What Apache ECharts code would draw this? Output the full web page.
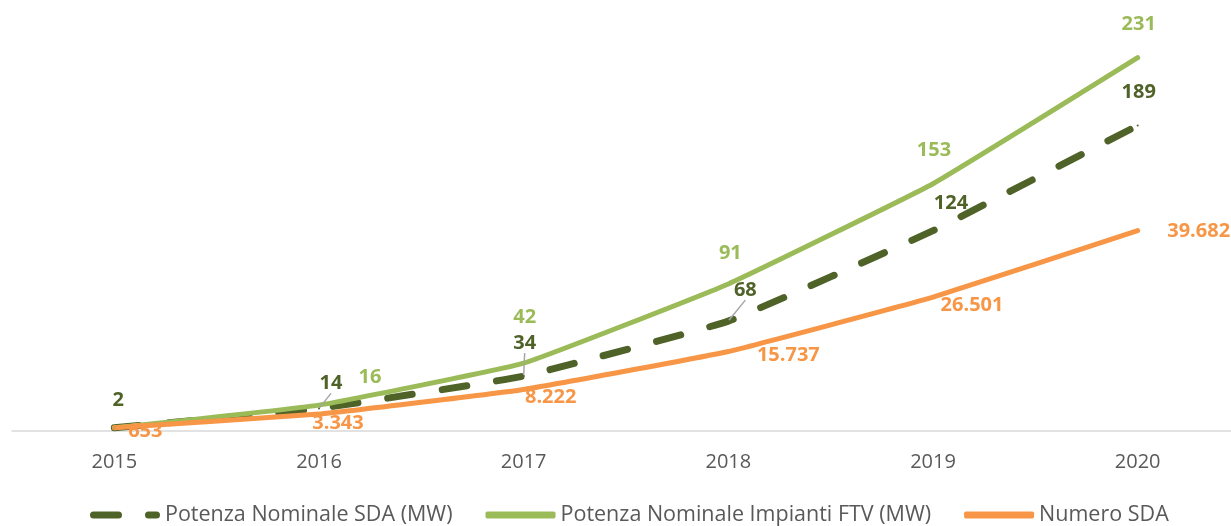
<!DOCTYPE html>
<html>
<head>
<meta charset="utf-8">
<script src="https://cdn.jsdelivr.net/npm/echarts@6/dist/echarts.min.js"></script>
<style>
  html, body { margin: 0; padding: 0; background: #ffffff; overflow: hidden; }
  #chart { width: 1242px; height: 526px; }
</style>
</head>
<body>
<div id="chart"></div>
<script>
// Years on the horizontal axis
const years = ['2015', '2016', '2017', '2018', '2019', '2020'];
// Installed storage power (MW)
const potenzaSDA = [2, 14, 34, 68, 124, 189];
// PV plant power paired with storage (MW)
const potenzaFTV = [2, 16, 42, 91, 153, 231];
// Number of storage systems
const numeroSDA = [653, 3343, 8222, 15737, 26501, 39682];

const FONT = "'Open Sans', 'Liberation Sans', sans-serif";
const C_DARK = '#4F6228';
const C_GREEN = '#9BBB59';
const C_ORANGE = '#F79646';

// Label centre offsets from each point (px), per series
const labelShift = [
  [[4, -27], [12, -25], [1, -33], [17, -31], [18, -27], [1, -33]],
  [[0, -30], [51, -28], [1, -46], [2, -31], [1, -33], [1, -33]],
  [[31, 4], [19, 9], [27, 8], [60, 4], [39, 8], [61, 1]]
];
const leaderIdx = [1, 2, 3];

const itFormat = v => v.toLocaleString('it-IT');

const chart = echarts.init(document.getElementById('chart'));

function labelStyle(color) {
  return {
    show: true,
    position: 'inside',
    color: color,
    fontFamily: FONT,
    fontWeight: 'bold',
    fontSize: 20
  };
}

chart.setOption({
  animation: false,
  backgroundColor: '#ffffff',
  grid: { left: 12, top: 27, width: 1228, height: 404 },
  legend: {
    left: 85,
    top: 499,
    itemWidth: 70,
    itemHeight: 7,
    itemGap: 33,
    textStyle: { fontFamily: FONT, fontSize: 21.5, color: '#595959' },
    data: [
      { name: 'Potenza Nominale SDA (MW)', icon: 'path://M3.5,0H28.5A3.5,3.5 0 0 1 28.5,7H3.5A3.5,3.5 0 0 1 3.5,0ZM58.5,0H66.5A3.5,3.5 0 0 1 66.5,7H58.5A3.5,3.5 0 0 1 58.5,0Z', itemStyle: { color: C_DARK } },
      { name: 'Potenza Nominale Impianti FTV (MW)', icon: 'roundRect', itemStyle: { color: C_GREEN } },
      { name: 'Numero SDA', icon: 'roundRect', itemStyle: { color: C_ORANGE } }
    ]
  },
  xAxis: {
    type: 'category',
    data: years,
    boundaryGap: true,
    axisLine: { lineStyle: { color: '#D9D9D9', width: 1.5 } },
    axisTick: { show: false },
    axisLabel: { color: '#595959', fontFamily: FONT, fontSize: 20, margin: 21 }
  },
  yAxis: [
    { type: 'value', min: 0, max: 250, show: false, splitLine: { show: false } },
    { type: 'value', min: 0, max: 80000, show: false, splitLine: { show: false } }
  ],
  labelLayout: function (p) {
    const s = labelShift[p.seriesIndex];
    if (!s) return {};
    const d = s[p.dataIndex];
    return { dx: d[0], dy: d[1] };
  },
  series: [
    {
      name: 'Potenza Nominale SDA (MW)',
      type: 'line',
      yAxisIndex: 0,
      smooth: 0.1,
      symbol: 'circle',
      symbolSize: 2,
      itemStyle: { color: C_DARK },
      lineStyle: { color: C_DARK, width: 7, type: [25, 30], cap: 'round' },
      label: labelStyle(C_DARK),
      labelLine: { show: false, lineStyle: { color: '#A6A6A6', width: 1.5 } },
      data: potenzaSDA.map((v, i) => ({
        value: v,
        labelLine: { show: leaderIdx.includes(i) }
      }))
    },
    {
      name: 'Potenza Nominale Impianti FTV (MW)',
      type: 'line',
      yAxisIndex: 0,
      smooth: 0.1,
      symbol: 'circle',
      symbolSize: 2,
      itemStyle: { color: C_GREEN },
      lineStyle: { color: C_GREEN, width: 5, cap: 'round' },
      label: labelStyle(C_GREEN),
      data: potenzaFTV.map((v, i) => ({
        value: v,
        label: { show: i > 0 }
      }))
    },
    {
      name: 'Numero SDA',
      type: 'line',
      yAxisIndex: 1,
      smooth: 0.1,
      symbol: 'circle',
      symbolSize: 2,
      itemStyle: { color: C_ORANGE },
      lineStyle: { color: C_ORANGE, width: 5, cap: 'round' },
      label: Object.assign(labelStyle(C_ORANGE), {
        formatter: p => itFormat(p.value)
      }),
      data: numeroSDA
    }
  ]
});
</script>
</body>
</html>
